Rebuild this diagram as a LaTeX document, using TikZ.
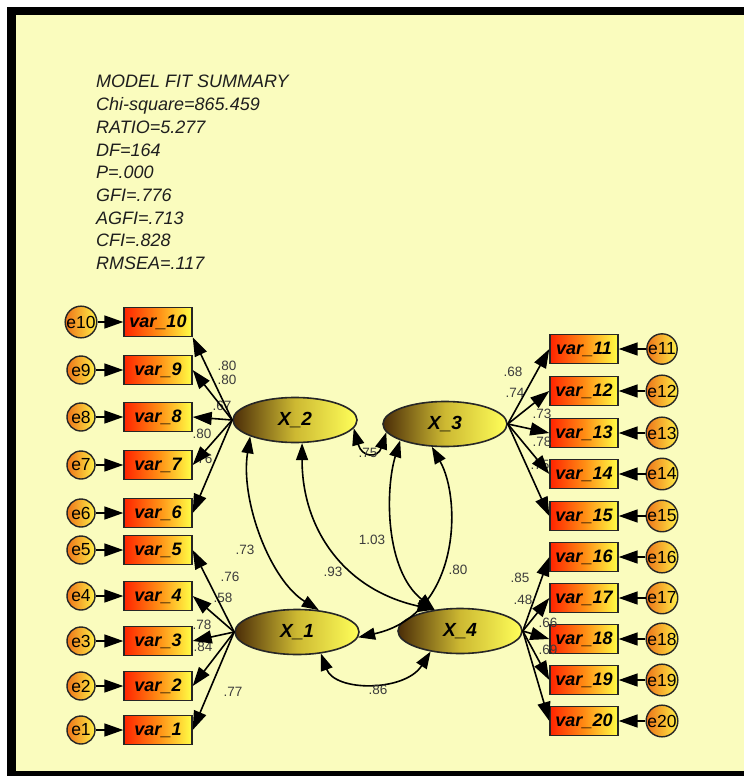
\documentclass[tikz,border=0pt]{standalone}
\usepackage{fontspec}
\setmainfont{Liberation Sans}
\usetikzlibrary{shapes.geometric,arrows.meta}
\definecolor{bgY}{RGB}{250,252,190}
\definecolor{boxR}{RGB}{255,35,0}
\definecolor{boxY}{RGB}{255,255,70}
\definecolor{boxM}{RGB}{255,140,20}
\definecolor{circO}{RGB}{238,115,25}
\definecolor{circY}{RGB}{255,240,70}
\definecolor{ellD}{RGB}{75,45,8}
\definecolor{ellM}{RGB}{205,185,50}
\definecolor{ellY}{RGB}{255,255,90}
\definecolor{txtG}{RGB}{30,30,30}
\definecolor{numG}{RGB}{60,60,60}
\begin{document}
\begin{tikzpicture}[x=1pt,y=-1pt,
 obs/.style={draw=black!85, line width=1.4pt, rectangle, minimum width=68pt, minimum height=29pt, inner sep=0pt, left color=boxR, right color=boxY, middle color=boxM, font=\fontsize{18}{18}\selectfont\bfseries\itshape},
 err/.style={draw=black!85, line width=1.4pt, circle, minimum size=28pt, inner sep=0pt, left color=circO, right color=circY, font=\fontsize{17.5}{17.5}\selectfont},
 lat/.style={draw=black!85, line width=1.6pt, ellipse, minimum width=124pt, minimum height=45pt, inner sep=0pt, left color=ellD, right color=ellY, middle color=ellM, font=\fontsize{19}{19}\selectfont\bfseries\itshape},
 arr/.style={line width=1.6pt, -{Triangle[length=19pt,width=13pt]}},
 dbl/.style={line width=1.6pt, {Triangle[length=17pt,width=12pt]}-{Triangle[length=17pt,width=12pt]}},
 num/.style={text=numG, font=\fontsize{13.5}{13.5}\selectfont, inner sep=0pt},
 sumtxt/.style={text=txtG, font=\fontsize{18}{18}\selectfont\itshape, anchor=base west, inner sep=0pt}
]
\useasboundingbox (0,0) rectangle (744,776);
\fill[white] (0,0) rectangle (744,776);
\fill[black] (7,7) rectangle (744,776);
\fill[bgY] (16,15) rectangle (744,771);

% summary
\foreach \t [count=\i from 0] in {MODEL FIT SUMMARY, Chi-square=865.459, RATIO=5.277, DF=164, P=.000, GFI=.776, AGFI=.713, CFI=.828, RMSEA=.117}
  \node[sumtxt] (s\i) at (96,{88+22.7*\i}) {\t};

% observed and error nodes
\foreach \n/\y in {10/322, 9/370, 8/417, 7/465, 6/513, 5/550, 4/596, 3/641, 2/686, 1/730} {
  \node[obs] (v\n) at (158,\y) {var\_\n};
  \node[err] (e\n) at (81,\y) {e\n};
  \draw[arr] (e\n) -- (v\n);
}
\foreach \n/\y in {11/349, 12/391, 13/433, 14/474, 15/516, 16/557, 17/598, 18/639, 19/680, 20/721} {
  \node[obs] (v\n) at (584,\y) {var\_\n};
  \node[err] (e\n) at (662,\y) {e\n};
  \draw[arr] (e\n) -- (v\n);
}

% latent
\node[lat] (X2) at (295,420) {X\_2};
\node[lat] (X3) at (445,424) {X\_3};
\node[lat] (X1) at (297,632) {X\_1};
\node[lat] (X4) at (460,631) {X\_4};

% loading labels
\node[num] (l10) at (227,366) {.80};
\node[num] (l9) at (227,380) {.80};
\node[num] (l8) at (222,406) {.67};
\node[num] (l7) at (202,434) {.80};
\node[num] (l6) at (203,459) {.76};
\node[num] (l5) at (230,577) {.76};
\node[num] (l4) at (223,598) {.58};
\node[num] (l3) at (202,625) {.78};
\node[num] (l2) at (203,647) {.84};
\node[num] (l1) at (233,692) {.77};
\node[num] (l11) at (513,372) {.68};
\node[num] (l12) at (515,393) {.74};
\node[num] (l13) at (542,414) {.73};
\node[num] (l14) at (542,442) {.78};
\node[num] (l15) at (540,465) {.75};
\node[num] (l16) at (520,578) {.85};
\node[num] (l17) at (523,600) {.48};
\node[num] (l18) at (548,623) {.66};
\node[num] (l19) at (548,650) {.69};

% loadings
\draw[arr] (X2.west) -- (v10.south east);
\foreach \n in {9,8,7,6} \draw[arr] (X2.west) -- (v\n.east);
\foreach \n in {5,4,3,2,1} \draw[arr] (X1.west) -- (v\n.east);
\foreach \n in {11,12,13,14,15} \draw[arr] (X3.east) -- (v\n.west);
\foreach \n in {16,17,18,19,20} \draw[arr] (X4.east) -- (v\n.west);

% covariances
\draw[dbl] (X2.-8) .. controls (362,458) and (378,458) .. (X3.188);
\draw[dbl] (X2.200) .. controls (240,500) and (270,580) .. (X1.45);
\draw[dbl] (X2.-73) .. controls (302,530) and (345,590) .. (X4.140);
\draw[dbl] (X3.200) .. controls (385,490) and (385,570) .. (X4.140);
\draw[dbl] (X3.240) .. controls (462,500) and (460,615) .. (X1.-5);
\draw[dbl] (X1.-42) .. controls (335,692) and (405,692) .. (X4.215);

\node[num] (c75) at (368,453) {.75};
\node[num] (c73) at (245,550) {.73};
\node[num] (c93) at (333,572) {.93};
\node[num] (c103) at (372,540) {1.03};
\node[num] (c80) at (458,570) {.80};
\node[num] (c86) at (378,690) {.86};
\end{tikzpicture}
\end{document}
